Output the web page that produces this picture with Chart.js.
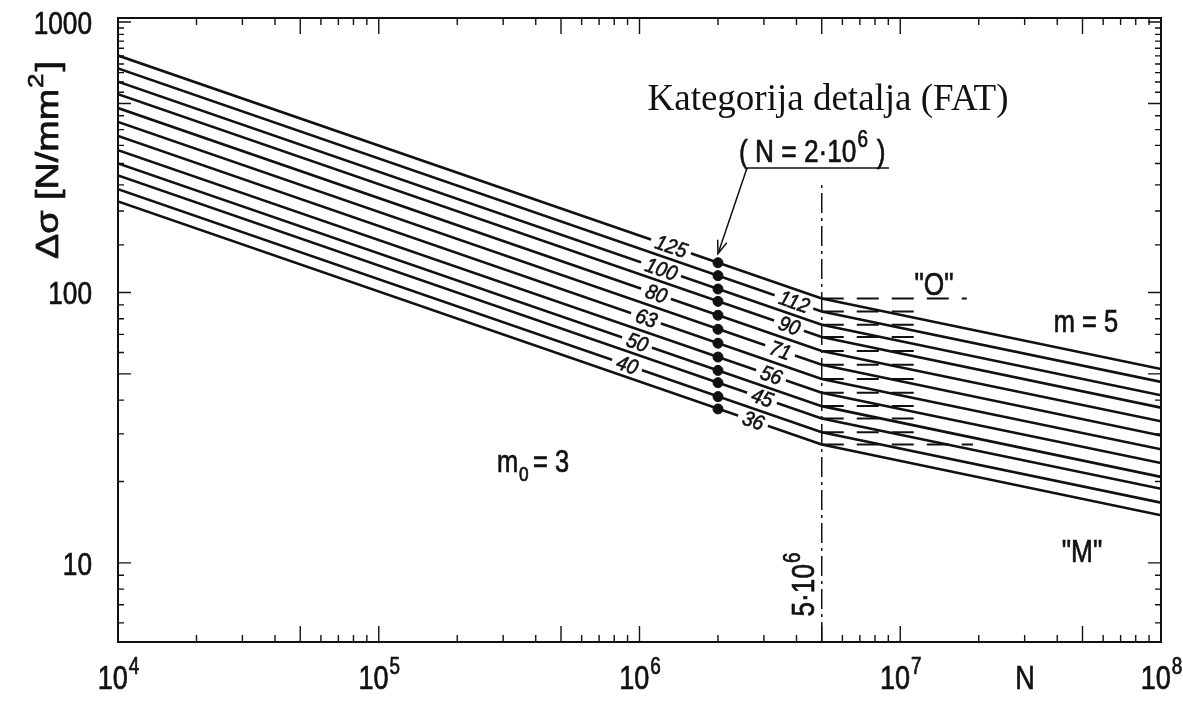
<html>
<head>
<meta charset="utf-8"/>
<title>S-N krivulje</title>
<script src="https://cdn.jsdelivr.net/npm/chart.js"></script>
<style>
  body { margin: 0; background: #fff; }
  .chart-container { width: 1183px; height: 702px; position: relative; }
</style>
</head>
<body>
<div class="chart-container"><canvas id="snChart"></canvas></div>
<script>
// FAT categories and curve values (Δσ in N/mm²)
const fatLabels = [125, 112, 100, 90, 80, 71, 63, 56, 50, 45, 40, 36];
const startVals = [752, 674, 602, 541, 481, 427, 379, 336, 300, 271, 241, 217];      // N = 1e4
const kneeVals  = [95.0, 85.1, 76.0, 68.4, 60.8, 54.0, 47.9, 42.6, 38.0, 34.2, 30.4, 27.4]; // N = 5e6
const endVals   = [52.1, 46.7, 41.7, 37.5, 33.4, 29.6, 26.3, 23.4, 20.8, 18.8, 16.7, 15.0]; // N = 1e8
const dotVals   = [128.8, 115.4, 103.0, 92.7, 82.4, 73.1, 64.9, 57.7, 51.5, 46.4, 41.2, 37.1]; // N = 2e6
const oEndN     = [1.8e7, 1.2e7, 1.2e7, 1.2e7, 1.2e7, 1.2e7, 1.2e7, 1.2e7, 1.2e7, 1.2e7, 1.2e7, 1.9e7];
const nStart = 1e4, nKnee = 5e6, nEnd = 1e8, nDot = 2e6;
const xTickExps = [4, 5, 6, 7, 8];
const yTickLabels = [10, 100, 1000];
const kneeLineTop = 258;

// label offsets (px along x from the dot) for FAT numbers
const leftLabelDx  = { 125: -47, 100: -57, 80: -62, 63: -72, 50: -81, 40: -91 };
const rightLabelDx = { 112: 76, 90: 71, 71: 62, 56: 53, 45: 44, 36: 35 };

const SANS = '"Liberation Sans", Arial, sans-serif';
const SERIF = '"Liberation Serif", "Times New Roman", serif';
const NARROW = 0.82;

function drawText(ctx, s, x, y, size, o) {
  o = o || {};
  ctx.save();
  ctx.translate(x, y);
  ctx.rotate(o.rot || 0);
  ctx.scale(o.sx || NARROW, 1);
  ctx.font = (o.italic ? 'italic ' : '') + size + 'px ' + (o.family || SANS);
  ctx.textAlign = o.align || 'left';
  ctx.textBaseline = o.baseline || 'alphabetic';
  ctx.fillStyle = '#111';
  ctx.fillText(s, 0, 0);
  if (!o.family) {  // scanned look: slightly heavier strokes
    ctx.strokeStyle = '#111';
    ctx.lineWidth = o.weight || 0.7;
    ctx.strokeText(s, 0, 0);
  }
  ctx.restore();
}
function textW(ctx, s, size, o) {
  o = o || {};
  ctx.save();
  ctx.font = (o.italic ? 'italic ' : '') + size + 'px ' + (o.family || SANS);
  const w = ctx.measureText(s).width * (o.sx || NARROW);
  ctx.restore();
  return w;
}
// "10^e" style label, centered at x
function drawPow(ctx, base, exp, cx, baseY, size, esize) {
  const w1 = textW(ctx, base, size), w2 = textW(ctx, exp, esize);
  const x0 = cx - (w1 + w2) / 2;
  drawText(ctx, base, x0, baseY, size);
  drawText(ctx, exp, x0 + w1 + 1, baseY - size * 0.45, esize);
}

const datasets = [];
fatLabels.forEach((f, i) => {
  datasets.push({
    data: [{ x: nStart, y: startVals[i] }, { x: nKnee, y: kneeVals[i] }, { x: nEnd, y: endVals[i] }],
    borderColor: '#111', borderWidth: 2.6, pointRadius: 0, tension: 0
  });
});
fatLabels.forEach((f, i) => {
  datasets.push({
    data: [{ x: nKnee, y: kneeVals[i] }, { x: oEndN[i], y: kneeVals[i] }],
    borderColor: '#111', borderWidth: 2, borderDash: [22, 13], pointRadius: 0
  });
});
datasets.push({
  data: [{ x: nKnee, y: 5.1 }, { x: nKnee, y: kneeLineTop }],
  borderColor: '#111', borderWidth: 1.5, borderDash: [20, 5, 3, 5], pointRadius: 0
});
datasets.push({
  type: 'scatter',
  data: dotVals.map(v => ({ x: nDot, y: v })),
  backgroundColor: '#111', borderColor: '#111', pointRadius: 5, showLine: false
});

const annot = {
  id: 'annot',
  afterDatasetsDraw(chart) {
    const ctx = chart.ctx, a = chart.chartArea;
    const xs = chart.scales.x, ys = chart.scales.y;
    ctx.save();

    // FAT labels sitting in gaps of their lines
    const dotX = xs.getPixelForValue(nDot);
    fatLabels.forEach((f, i) => {
      const dx = leftLabelDx[f] !== undefined ? leftLabelDx[f] : rightLabelDx[f];
      const x1 = xs.getPixelForValue(nStart), y1 = ys.getPixelForValue(startVals[i]);
      const x2 = xs.getPixelForValue(nKnee), y2 = ys.getPixelForValue(kneeVals[i]);
      const slope = (y2 - y1) / (x2 - x1);
      const x = dotX + dx, y = y1 + (x - x1) * slope;
      const ang = Math.atan(slope);
      const s = String(f), o = { italic: true, sx: 0.92, rot: ang, align: 'center', baseline: 'middle', weight: 0.6 };
      const w = textW(ctx, s, 21, o);
      ctx.save();
      ctx.translate(x, y); ctx.rotate(ang);
      ctx.fillStyle = '#fff';
      ctx.fillRect(-w / 2 - 5, -7, w + 10, 14);
      ctx.restore();
      drawText(ctx, s, x, y + 1, 21, o);
    });

    // frame
    ctx.strokeStyle = '#111';
    ctx.lineWidth = 2;
    ctx.strokeRect(a.left, a.top, a.right - a.left, a.bottom - a.top);

    // inward ticks on all sides
    ctx.lineWidth = 1.4;
    for (let d = 0; d <= 2; d++) {
      const steps = d === 2 ? [1,1.5,2,2.5,3,3.5,4,4.5,5,5.5,6,6.5,7,7.5,8,8.5,9,9.5] : [1,2,3,4,5,6,7,8,9];
      steps.forEach(k => {
        const v = k * Math.pow(10, d);
        if (v < ys.min || v > ys.max) return;
        const py = ys.getPixelForValue(v);
        const len = (k === 1 || k === 5) ? 13 : 6;
        ctx.beginPath();
        ctx.moveTo(a.left, py); ctx.lineTo(a.left + len, py);
        ctx.moveTo(a.right, py); ctx.lineTo(a.right - len, py);
        ctx.stroke();
      });
    }
    const py1000 = ys.getPixelForValue(1000);
    ctx.beginPath(); ctx.moveTo(a.left, py1000); ctx.lineTo(a.left + 13, py1000);
    ctx.moveTo(a.right, py1000); ctx.lineTo(a.right - 13, py1000); ctx.stroke();
    for (let d = 4; d <= 7; d++) {
      for (let k = 1; k <= 9; k++) {
        const px = xs.getPixelForValue(k * Math.pow(10, d));
        const len = (k === 1 || k === 5) ? 16 : 7;
        ctx.beginPath();
        ctx.moveTo(px, a.bottom); ctx.lineTo(px, a.bottom - len);
        ctx.moveTo(px, a.top); ctx.lineTo(px, a.top + len);
        ctx.stroke();
      }
    }

    // y tick labels
    yTickLabels.forEach(v => {
      drawText(ctx, String(v), 92, ys.getPixelForValue(v) + 12, 32, { align: 'right' });
    });
    // x tick labels
    xTickExps.forEach(e => {
      drawPow(ctx, '10', String(e), xs.getPixelForValue(Math.pow(10, e)), 689, 33, 23);
    });
    drawText(ctx, 'N', 1025, 689, 33, { align: 'center' });

    // y axis title
    ctx.save();
    ctx.translate(58, 160);
    ctx.rotate(-Math.PI / 2);
    const t1 = 'Δσ [N/mm', t3 = ']';
    const so = { sx: 1.18 };
    const n1 = textW(ctx, t1, 32, so), n2 = textW(ctx, '2', 22, so), n3 = textW(ctx, t3, 32, so);
    let x0 = -(n1 + n2 + n3 + 3) / 2;
    drawText(ctx, t1, x0, 0, 32, so);
    drawText(ctx, '2', x0 + n1 + 1, -15, 22, so);
    drawText(ctx, t3, x0 + n1 + n2 + 3, 0, 32, so);
    ctx.restore();

    // title annotation
    drawText(ctx, 'Kategorija detalja (FAT)', 828, 110, 37, { family: SERIF, sx: 1, align: 'center' });
    drawText(ctx, '( N = 2·10', 739, 162, 32);
    const wN = textW(ctx, '( N = 2·10', 32);
    drawText(ctx, '6', 739 + wN + 1, 147, 23);
    drawText(ctx, ' )', 739 + wN + 13, 162, 32);
    ctx.lineWidth = 1.5;
    ctx.beginPath(); ctx.moveTo(747, 168); ctx.lineTo(889, 168); ctx.stroke();
    // arrow to FAT 125 dot
    const tx = dotX, ty = ys.getPixelForValue(dotVals[0]) - 9;
    ctx.beginPath(); ctx.moveTo(747, 168); ctx.lineTo(tx, ty); ctx.stroke();
    const ang = Math.atan2(ty - 168, tx - 747);
    ctx.beginPath();
    ctx.moveTo(tx - 14 * Math.cos(ang - 0.35), ty - 14 * Math.sin(ang - 0.35));
    ctx.lineTo(tx, ty);
    ctx.lineTo(tx - 14 * Math.cos(ang + 0.35), ty - 14 * Math.sin(ang + 0.35));
    ctx.stroke();

    // other annotations
    drawText(ctx, '"O"', 934, 295, 32, { align: 'center' });
    drawText(ctx, 'm = 5', 1086, 332, 31, { align: 'center' });
    drawText(ctx, '"M"', 1082, 562, 32, { align: 'center' });
    drawText(ctx, 'm', 497, 472, 31);
    drawText(ctx, '0', 519, 481, 21);
    drawText(ctx, '= 3', 533, 472, 31);
    // 5·10^6 along the knee line
    ctx.save();
    ctx.translate(xs.getPixelForValue(nKnee) - 8, 585);
    ctx.rotate(-Math.PI / 2);
    const wv = textW(ctx, '5·10', 32), we = textW(ctx, '6', 23);
    drawText(ctx, '5·10', -(wv + we) / 2, 0, 32);
    drawText(ctx, '6', -(wv + we) / 2 + wv + 1, -14, 23);
    ctx.restore();

    ctx.restore();
  }
};

new Chart(document.getElementById('snChart').getContext('2d'), {
  type: 'line',
  data: { datasets: datasets },
  options: {
    responsive: true,
    maintainAspectRatio: false,
    animation: false,
    layout: { padding: { left: 0, top: 18, right: 22, bottom: 0 } },
    plugins: { legend: { display: false }, tooltip: { enabled: false } },
    scales: {
      x: {
        type: 'logarithmic', min: 1e4, max: 1e8,
        ticks: { display: false }, grid: { display: false }, border: { display: false },
        afterFit: s => { s.height = 60; }
      },
      y: {
        type: 'logarithmic', min: 5.1, max: 1035,
        ticks: { display: false }, grid: { display: false }, border: { display: false },
        afterFit: s => { s.width = 118; }
      }
    }
  },
  plugins: [annot]
});
</script>
</body>
</html>
